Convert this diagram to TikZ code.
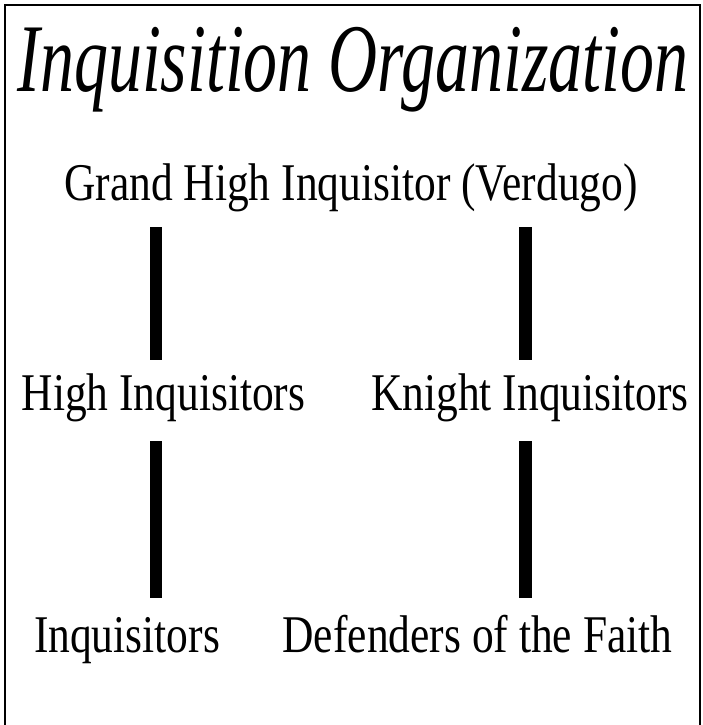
\documentclass[tikz,border=0pt]{standalone}
\usepackage{fontspec}
\setmainfont{Liberation Serif}
\newfontfamily\bodyfont[FakeStretch=0.82]{Liberation Serif}
\newfontfamily\titlefont[FakeStretch=0.70]{Liberation Serif}
\begin{document}
\begin{tikzpicture}[x=1pt,y=-1pt,
  lbl/.style={inner sep=0pt, anchor=base, font=\bodyfont\fontsize{53}{60}\selectfont},
  ttl/.style={inner sep=0pt, anchor=base, font=\titlefont\itshape\fontsize{97}{110}\selectfont},
  bar/.style={line width=12.5pt, line cap=butt},
  frame/.style={line width=2pt}]
\useasboundingbox (0,0) rectangle (703,725);
\draw[frame] (5,725) -- (5,5) -- (700,5) -- (700,725);
\node[ttl] (title) at (353,92) {Inquisition Organization};
\node[lbl] (grand) at (351,200) {Grand High Inquisitor (Verdugo)};
\node[lbl] (high) at (163.5,410) {High Inquisitors};
\node[lbl] (knight) at (530,410) {Knight Inquisitors};
\node[lbl] (inq) at (127,652) {Inquisitors};
\node[lbl] (def) at (477.5,652) {Defenders of the Faith};
\coordinate (a1) at (156,227);
\coordinate (a2) at (156,360);
\coordinate (b1) at (525.5,227);
\coordinate (b2) at (525.5,360);
\coordinate (c1) at (156,441);
\coordinate (c2) at (156,598);
\coordinate (d1) at (525.5,441);
\coordinate (d2) at (525.5,598);
\draw[bar] (a1) -- (a2);
\draw[bar] (b1) -- (b2);
\draw[bar] (c1) -- (c2);
\draw[bar] (d1) -- (d2);
\end{tikzpicture}
\end{document}
